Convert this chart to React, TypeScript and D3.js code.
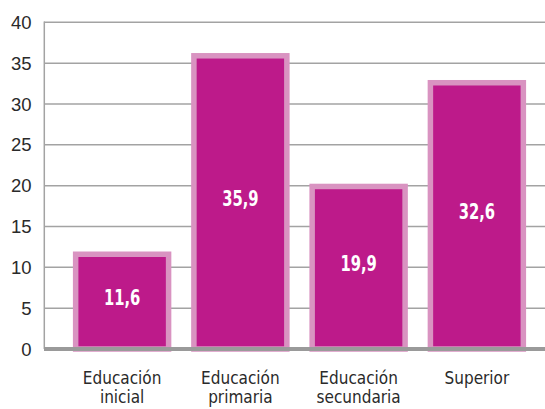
import React from "react";
import * as d3 from "d3";

const categories = [["Educación", "inicial"], ["Educación", "primaria"], ["Educación", "secundaria"], ["Superior"]];
const values = [11.6, 35.9, 19.9, 32.6];
const valueLabels = ["11,6", "35,9", "19,9", "32,6"];
const yTicks = [0, 5, 10, 15, 20, 25, 30, 35, 40];

const W = 545;
const H = 409;

export default function App() {
  const x = d3
    .scaleBand<number>()
    .domain(values.map((_, i) => i))
    .range([63, 536])
    .paddingInner(0.214)
    .paddingOuter(0.107);
  const y = d3.scaleLinear().domain([0, 40]).range([349, 22.3]);
  const narrow = "'Liberation Sans Narrow', 'DejaVu Sans Condensed', 'Roboto', sans-serif";
  return (
    <svg width={W} height={H} style={{ position: "absolute", left: 0, top: 0, background: "#fff" }}>
      {yTicks.filter((t) => t > 0).map((t) => (
        <line key={t} x1={44} x2={W} y1={y(t)} y2={y(t)} stroke="#a3a3a3" strokeWidth={1.5} />
      ))}
      <line x1={44.3} x2={44.3} y1={y(40) - 0.75} y2={y(0)} stroke="#a3a3a3" strokeWidth={1.5} />
      {yTicks.map((t) => (
        <text
          key={t}
          x={31.5}
          y={y(t)}
          dy="0.36em"
          textAnchor="end"
          fontFamily="'Liberation Sans', Arial, sans-serif"
          fontSize={18.5}
          fill="#2a2a2a"
        >
          {t}
        </text>
      ))}
      {values.map((v, i) => (
        <rect
          key={i}
          x={x(i)!}
          width={x.bandwidth()}
          y={y(v)}
          height={y(0) - y(v)}
          fill="#bd1a8a"
          stroke="#d993c1"
          strokeWidth={5.5}
        />
      ))}
      <line x1={44} x2={W} y1={y(0)} y2={y(0)} stroke="#9a9a9a" strokeWidth={4} />
      {values.map((v, i) => {
        const cx = x(i)! + x.bandwidth() / 2;
        const cy = (y(v) + y(0)) / 2 - 4;
        return (
          <text
            key={i}
            transform={`translate(${cx},${cy}) scale(0.8,1)`}
            dy="0.36em"
            textAnchor="middle"
            fontFamily={narrow}
            fontWeight="bold"
            fontSize={20.5}
            fill="#fff"
          >
            {valueLabels[i]}
          </text>
        );
      })}
      {categories.map((lines, i) => (
        <text
          key={i}
          x={x(i)! + x.bandwidth() / 2}
          textAnchor="middle"
          fontFamily={narrow}
          fontSize={17}
          fill="#2a2a2a"
        >
          {lines.map((l, j) => (
            <tspan key={j} x={x(i)! + x.bandwidth() / 2} y={384 + j * 19}>
              {l}
            </tspan>
          ))}
        </text>
      ))}
    </svg>
  );
}
